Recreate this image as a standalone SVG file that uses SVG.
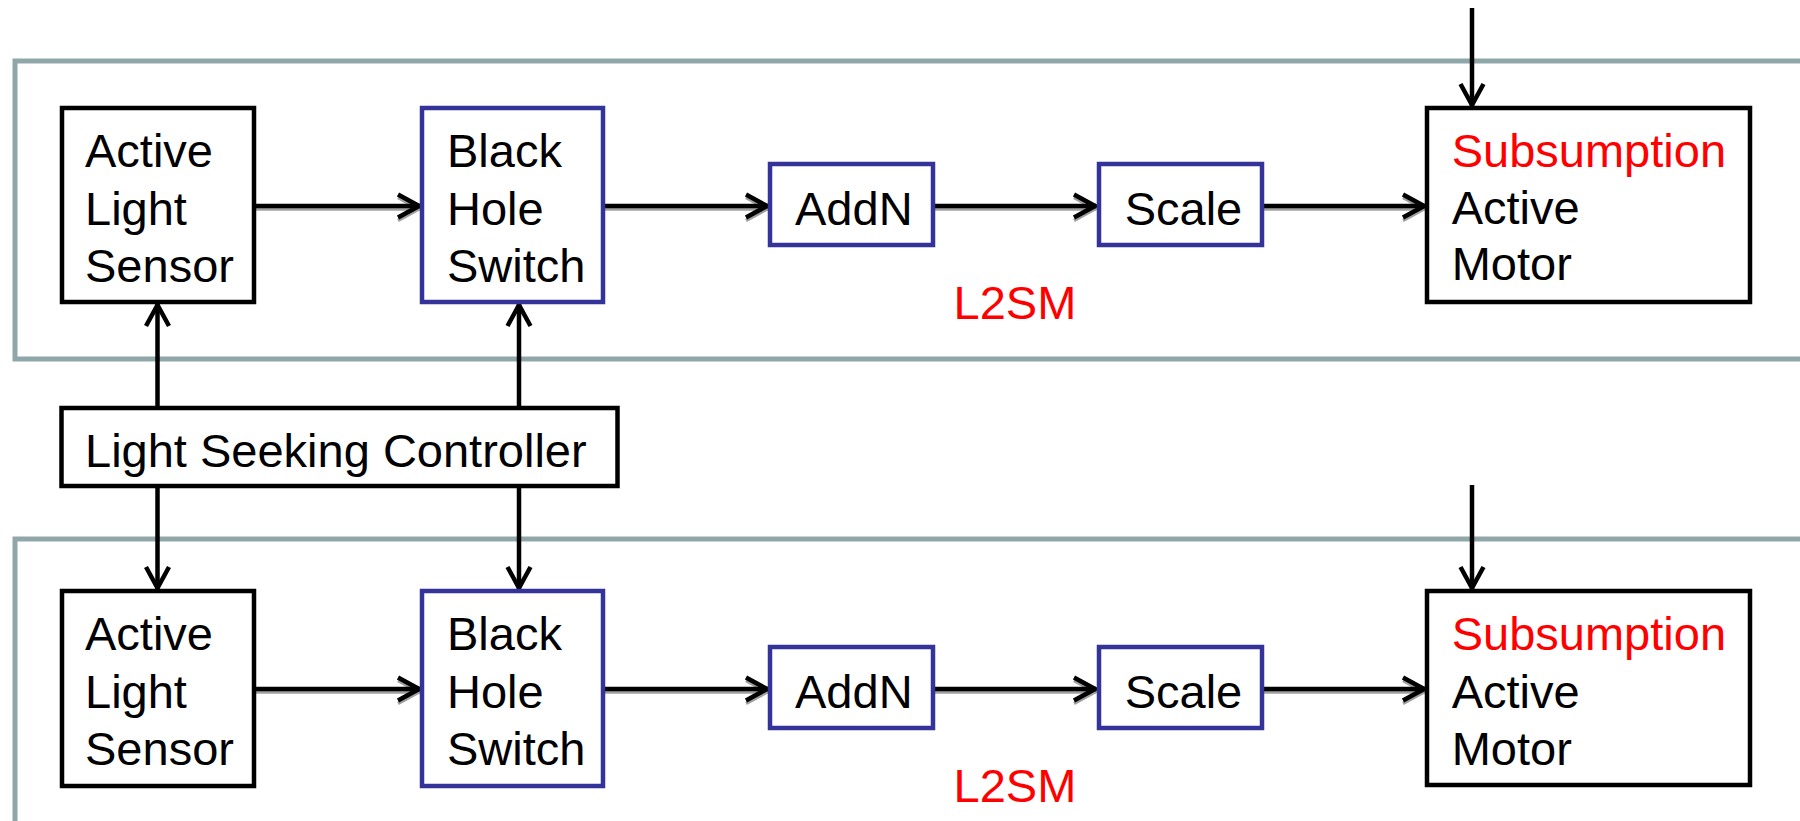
<svg xmlns="http://www.w3.org/2000/svg" width="1800" height="821" viewBox="0 0 1800 821">
<style>
.frame{fill:none;stroke:#8FA7A9;stroke-width:5}
.bk{fill:#fff;stroke:#000;stroke-width:4.5}
.bl{fill:#fff;stroke:#333399;stroke-width:4.5}
text{font-family:"Liberation Sans",Arial,sans-serif;font-size:47px;fill:#000}
.red{fill:#FF0000}
.ln{stroke:#000;stroke-width:4.5;fill:none}
.sh{stroke:#a0a0a0;stroke-width:3.5;fill:none}
</style>
<defs>
<marker id="ah" viewBox="0 0 26 28" refX="24" refY="14" markerWidth="26" markerHeight="28" markerUnits="userSpaceOnUse" orient="auto">
<path d="M2,2.5 L23,14 L2,25.5" fill="none" stroke="#000" stroke-width="4.5"/>
</marker>
<marker id="ahs" viewBox="0 0 26 28" refX="24" refY="14" markerWidth="26" markerHeight="28" markerUnits="userSpaceOnUse" orient="auto">
<path d="M2,2.5 L23,14 L2,25.5" fill="none" stroke="#a0a0a0" stroke-width="3.5"/>
</marker>
</defs>
<rect width="1800" height="821" fill="#fff"/>
<g id="frames">
<rect class="frame" x="15" y="61" width="1800" height="298"/>
<rect class="frame" x="15" y="539" width="1800" height="300"/>
</g>
<g id="connectors">
<line class="sh" x1="256" y1="209" x2="420" y2="209" marker-end="url(#ahs)"/>
<line class="ln" x1="256" y1="206" x2="420" y2="206" marker-end="url(#ah)"/>
<line class="sh" x1="605" y1="209" x2="768" y2="209" marker-end="url(#ahs)"/>
<line class="ln" x1="605" y1="206" x2="768" y2="206" marker-end="url(#ah)"/>
<line class="sh" x1="935" y1="209" x2="1096" y2="209" marker-end="url(#ahs)"/>
<line class="ln" x1="935" y1="206" x2="1096" y2="206" marker-end="url(#ah)"/>
<line class="sh" x1="1264" y1="209" x2="1425" y2="209" marker-end="url(#ahs)"/>
<line class="ln" x1="1264" y1="206" x2="1425" y2="206" marker-end="url(#ah)"/>
<line class="sh" x1="256" y1="692" x2="420" y2="692" marker-end="url(#ahs)"/>
<line class="ln" x1="256" y1="689" x2="420" y2="689" marker-end="url(#ah)"/>
<line class="sh" x1="605" y1="692" x2="768" y2="692" marker-end="url(#ahs)"/>
<line class="ln" x1="605" y1="689" x2="768" y2="689" marker-end="url(#ah)"/>
<line class="sh" x1="935" y1="692" x2="1096" y2="692" marker-end="url(#ahs)"/>
<line class="ln" x1="935" y1="689" x2="1096" y2="689" marker-end="url(#ah)"/>
<line class="sh" x1="1264" y1="692" x2="1425" y2="692" marker-end="url(#ahs)"/>
<line class="ln" x1="1264" y1="689" x2="1425" y2="689" marker-end="url(#ah)"/>
<line class="ln" x1="157.5" y1="408" x2="157.5" y2="304" marker-end="url(#ah)"/>
<line class="ln" x1="519" y1="408" x2="519" y2="304" marker-end="url(#ah)"/>
<line class="ln" x1="157.5" y1="486" x2="157.5" y2="589" marker-end="url(#ah)"/>
<line class="ln" x1="519" y1="486" x2="519" y2="589" marker-end="url(#ah)"/>
<line class="ln" x1="1472" y1="8" x2="1472" y2="106" marker-end="url(#ah)"/>
<line class="ln" x1="1472" y1="485" x2="1472" y2="589" marker-end="url(#ah)"/>
</g>
<g id="top-sensor">
<rect class="bk" x="62" y="108" width="192" height="194"/>
<text x="85" y="166.7">Active<tspan x="85" y="224.5">Light</tspan><tspan x="85" y="281.7">Sensor</tspan></text>
</g>
<g id="top-switch">
<rect class="bl" x="422" y="108" width="181" height="194"/>
<text x="447" y="166.7">Black<tspan x="447" y="224.5">Hole</tspan><tspan x="447" y="281.7">Switch</tspan></text>
</g>
<g id="top-addn">
<rect class="bl" x="770" y="164" width="163" height="81"/>
<text x="795" y="225">AddN</text>
</g>
<g id="top-scale">
<rect class="bl" x="1099" y="164" width="163" height="81"/>
<text x="1124.7" y="225">Scale</text>
</g>
<g id="top-motor">
<rect class="bk" x="1427" y="108" width="323" height="194"/>
<text x="1451.7" y="166.7"><tspan class="red">Subsumption</tspan><tspan x="1451.7" y="224">Active</tspan><tspan x="1451.7" y="280">Motor</tspan></text>
</g>
<g id="top-label">
<text class="red" x="953.5" y="319">L2SM</text>
</g>
<g id="controller">
<rect class="bk" x="61.5" y="408" width="556" height="78"/>
<text x="85" y="466.7">Light Seeking Controller</text>
</g>
<g id="bottom-sensor">
<rect class="bk" x="62" y="591" width="192" height="195"/>
<text x="85" y="650">Active<tspan x="85" y="708">Light</tspan><tspan x="85" y="765">Sensor</tspan></text>
</g>
<g id="bottom-switch">
<rect class="bl" x="422" y="591" width="181" height="195"/>
<text x="447" y="650">Black<tspan x="447" y="708">Hole</tspan><tspan x="447" y="765">Switch</tspan></text>
</g>
<g id="bottom-addn">
<rect class="bl" x="770" y="647" width="163" height="81"/>
<text x="795" y="708">AddN</text>
</g>
<g id="bottom-scale">
<rect class="bl" x="1099" y="647" width="163" height="81"/>
<text x="1124.7" y="708">Scale</text>
</g>
<g id="bottom-motor">
<rect class="bk" x="1427" y="591" width="323" height="194"/>
<text x="1451.7" y="650"><tspan class="red">Subsumption</tspan><tspan x="1451.7" y="708">Active</tspan><tspan x="1451.7" y="765">Motor</tspan></text>
</g>
<g id="bottom-label">
<text class="red" x="953.5" y="802">L2SM</text>
</g>
</svg>
